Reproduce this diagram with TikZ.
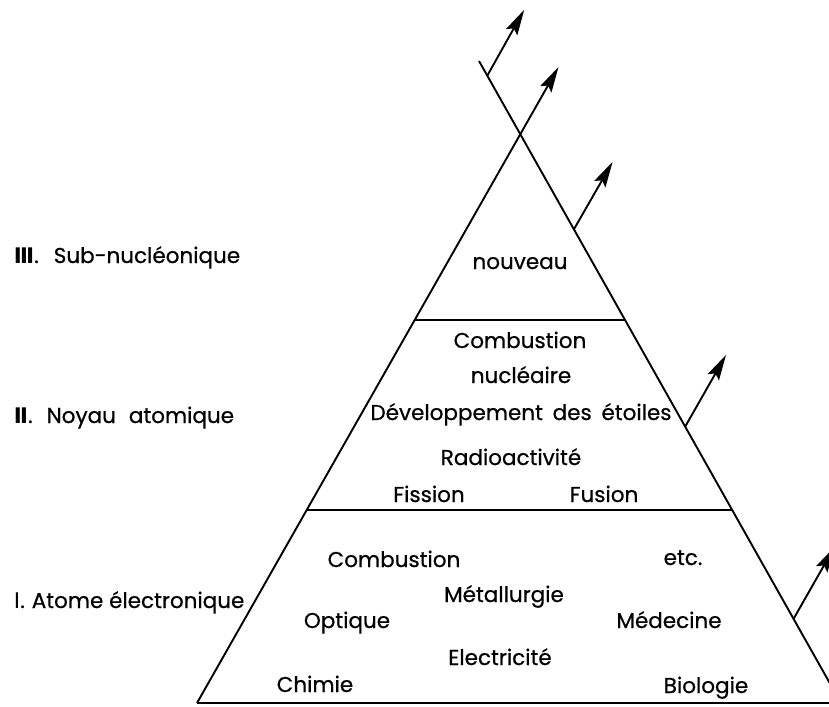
\documentclass[tikz,border=0pt]{standalone}
\usepackage{fontspec}
\setmainfont{Poppins}[FakeBold=0.6]
\newfontfamily\dejavu{DejaVu Sans}
\usetikzlibrary{calc,arrows.meta}

\begin{document}
\begin{tikzpicture}[x=1pt,y=-1pt,line width=1.9pt,
  lbl/.style={anchor=base,inner sep=0pt,font=\fontsize{21.5}{21.5}\selectfont},
  side/.style={anchor=base west,inner sep=0pt,font=\fontsize{21.5}{21.5}\selectfont},
  arr/.style={arrows={-Stealth[length=9mm,width=4.5mm,inset=1.5mm]}, shorten >=0pt}]
\useasboundingbox (0,0) rectangle (829,706);
\clip (0,0) rectangle (829,706);

% triangle
\coordinate (A) at (520,135);
\coordinate (BL) at (197,703);
\coordinate (BR) at (841,703);
\coordinate (LT) at (558.5,67);
\coordinate (RT) at (479,61);
\draw[arr] (BL) -- (LT);
\draw (BR) -- (RT);
\draw (BL) -- (BR);
\draw ($(A)!0.3257!(BL)$) -- ($(A)!0.3257!(BR)$);
\draw ($(A)!0.6602!(BL)$) -- ($(A)!0.6602!(BR)$);

% branch arrows
\coordinate (s1) at ($(A)!0.8!(RT)$);
\coordinate (s2) at ($(A)!0.167!(BR)$);
\coordinate (s3) at ($(A)!0.514!(BR)$);
\coordinate (s4) at ($(A)!0.852!(BR)$);
\coordinate (t1) at ($(s1)+(37,-66)$);
\coordinate (t2) at ($(s2)+(39,-68)$);
\coordinate (t3) at ($(s3)+(41,-72)$);
\coordinate (t4) at ($(s4)+(41,-72)$);
\draw[arr] (s1) -- (t1);
\draw[arr] (s2) -- (t2);
\draw[arr] (s3) -- (t3);
\draw[arr] (s4) -- (t4);

% level labels
\node[side] (l3) at (13,263) {{\dejavu\bfseries Ⅲ}.\hspace{15pt}Sub-nucléonique};
\node[side] (l2) at (13,423) {{\dejavu\bfseries Ⅱ}.\hspace{14pt}Noyau\hspace{13pt}atomique};
\node[side] (l1) at (13,608) {{\dejavu Ⅰ}.\hspace{7pt}Atome électronique};

% top level
\node[lbl] (nouveau) at (520,269) {nouveau};

% middle level
\node[lbl] (comb2) at (520,348) {Combustion};
\node[lbl] (nucl) at (521,383) {nucléaire};
\node[lbl] (dev) at (521,420) {Développement\hspace{4pt} des\hspace{4pt} étoiles};
\node[lbl] (radio) at (511,465) {Radioactivité};
\node[lbl] (fission) at (429,502) {Fission};
\node[lbl] (fusion) at (604,502) {Fusion};

% bottom level
\node[lbl] (comb1) at (394,567) {Combustion};
\node[lbl] (etc) at (683,565) {etc.};
\node[lbl] (metal) at (504,602) {Métallurgie};
\node[lbl] (optique) at (347,628) {Optique};
\node[lbl] (medecine) at (669,628) {Médecine};
\node[lbl] (elec) at (500,665) {Electricité};
\node[lbl] (chimie) at (315,692) {Chimie};
\node[lbl] (bio) at (706,693) {Biologie};
\end{tikzpicture}
\end{document}
